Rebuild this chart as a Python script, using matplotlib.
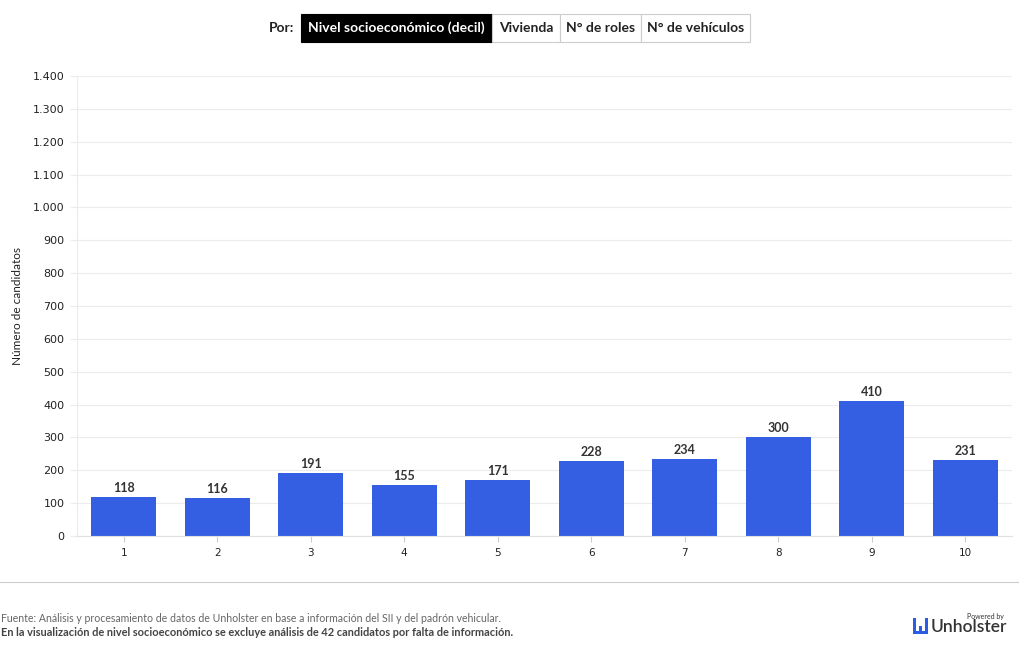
import matplotlib
matplotlib.use("Agg")
import matplotlib.pyplot as plt
from matplotlib.patches import Rectangle
from matplotlib.ticker import FuncFormatter

deciles = ["1", "2", "3", "4", "5", "6", "7", "8", "9", "10"]
candidatos = [118, 116, 191, 155, 171, 228, 234, 300, 410, 231]
yticks = list(range(0, 1401, 100))
botones = ["Nivel socioeconómico (decil)", "Vivienda", "N° de roles", "N° de vehículos"]
fuente = "Fuente: Análisis y procesamiento de datos de Unholster en base a información del SII y del padrón vehicular."
nota = "En la visualización de nivel socioeconómico se excluye análisis de 42 candidatos por falta de información."

FONT = ["Lato", "DejaVu Sans"]
BLUE = "#355fe3"

fig = plt.figure(figsize=(10.2, 6.5), dpi=100)
ax = fig.add_axes([77 / 1020, 1 - 536 / 650, 935 / 1020, 460 / 650])

x = list(range(len(deciles)))
bars = ax.bar(x, candidatos, width=0.7, color=BLUE, zorder=2)
for b, v in zip(bars, candidatos):
    ax.text(b.get_x() + b.get_width() / 2, v + 10, str(v), ha="center", va="bottom",
            fontsize=9, fontweight="bold", color="#333333", family=FONT)

ax.set_xlim(-0.5, len(deciles) - 0.5)
ax.set_ylim(0, 1400)
ax.set_yticks(yticks)
ax.yaxis.set_major_formatter(FuncFormatter(lambda v, p: f"{int(v):,}".replace(",", ".")))
ax.set_xticks(x)
ax.set_xticklabels(deciles)
ax.grid(axis="y", color="#ececec", linewidth=0.8, zorder=0)
for s in ["top", "right"]:
    ax.spines[s].set_visible(False)
ax.spines["left"].set_color("#ececec")
ax.spines["bottom"].set_color("#e0e0e0")
ax.tick_params(axis="y", length=5, color="#ececec", labelsize=8, labelcolor="#222222", pad=4)
ax.tick_params(axis="x", length=4, color="#cccccc", labelsize=7.5, labelcolor="#222222", pad=5)
ax.set_ylabel("Número de candidatos", fontsize=8.5, color="#222222", family=FONT)
ax.yaxis.set_label_coords(-0.058, 0.5)

# selector de botones
fig.text(282 / 1020, 1 - 28 / 650, "Por:", ha="center", va="center", fontsize=10,
         fontweight="bold", color="#222222", family=FONT)
edges = [301, 492, 560, 641, 750]
for i, lab in enumerate(botones):
    x0, x1 = edges[i], edges[i + 1]
    activo = i == 0
    fig.patches.append(Rectangle((x0 / 1020, 1 - 42 / 650), (x1 - x0) / 1020, 28 / 650,
                                 transform=fig.transFigure,
                                 facecolor="black" if activo else "white",
                                 edgecolor="black" if activo else "#cccccc", linewidth=0.8))
    fig.text((x0 + x1) / 2 / 1020, 1 - 28 / 650, lab, ha="center", va="center", fontsize=10,
             fontweight="bold", color="white" if activo else "#222222", family=FONT)

# pie
fig.add_artist(plt.Line2D([0, 1], [1 - 582 / 650] * 2, color="#cccccc", linewidth=0.8))
fig.text(1 / 1020, 1 - 618 / 650, fuente, ha="left", va="center", fontsize=7.6,
         color="#666666", family=FONT)
fig.text(1 / 1020, 1 - 632 / 650, nota, ha="left", va="center", fontsize=7.9,
         fontweight="bold", color="#444444", family=FONT)

# logo
for (lx, ly, lw, lh) in [(913, 618, 3, 16), (919, 626, 3, 8), (925, 618, 3, 16)]:
    fig.patches.append(Rectangle((lx / 1020, 1 - (ly + lh) / 650), lw / 1020, lh / 650,
                                 transform=fig.transFigure, facecolor="#2b5ce6", edgecolor="none"))
fig.patches.append(Rectangle((913 / 1020, 1 - 634 / 650), 15 / 1020, 3 / 650,
                             transform=fig.transFigure, facecolor="#2b5ce6", edgecolor="none"))
fig.text(931 / 1020, 1 - 627 / 650, "Unholster", ha="left", va="center", fontsize=12.5,
         fontweight="semibold", color="#333333", family=FONT)
fig.text(1004 / 1020, 1 - 616 / 650, "Powered by", ha="right", va="center", fontsize=5,
         color="#333333", family=FONT)

fig.savefig("out.png", dpi=100)
